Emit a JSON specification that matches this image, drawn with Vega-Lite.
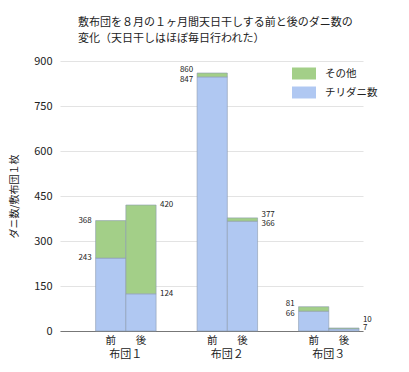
{
  "$schema": "https://vega.github.io/schema/vega-lite/v6.json",
  "width": 303,
  "height": 270,
  "autosize": "none",
  "padding": {"left": 60, "top": 61, "right": 46, "bottom": 41},
  "background": "white",
  "title": {
    "text": ["敷布団を８月の１ヶ月間天日干しする前と後のダニ数の", "変化（天日干しはほぼ毎日行われた）"],
    "anchor": "start",
    "frame": "group",
    "dx": 18,
    "fontSize": 11,
    "fontWeight": "normal",
    "font": "Noto Sans CJK JP",
    "color": "#222",
    "lineHeight": 16.5,
    "offset": 11
  },
  "config": {"font": "Noto Sans CJK JP", "view": {"stroke": null}},
  "data": {"values": [
    {"futon": "布団１", "timing": "前", "kind": "チリダニ数", "count": 243},
    {"futon": "布団１", "timing": "前", "kind": "その他", "count": 125},
    {"futon": "布団１", "timing": "後", "kind": "チリダニ数", "count": 124},
    {"futon": "布団１", "timing": "後", "kind": "その他", "count": 296},
    {"futon": "布団２", "timing": "前", "kind": "チリダニ数", "count": 847},
    {"futon": "布団２", "timing": "前", "kind": "その他", "count": 13},
    {"futon": "布団２", "timing": "後", "kind": "チリダニ数", "count": 366},
    {"futon": "布団２", "timing": "後", "kind": "その他", "count": 11},
    {"futon": "布団３", "timing": "前", "kind": "チリダニ数", "count": 66},
    {"futon": "布団３", "timing": "前", "kind": "その他", "count": 15},
    {"futon": "布団３", "timing": "後", "kind": "チリダニ数", "count": 7},
    {"futon": "布団３", "timing": "後", "kind": "その他", "count": 3}
  ]},
  "transform": [
    {"stack": "count", "groupby": ["futon", "timing"], "sort": [{"field": "kind", "order": "descending"}], "as": ["v0", "v1"]},
    {"joinaggregate": [{"op": "sum", "field": "count", "as": "total"}], "groupby": ["futon", "timing"]}
  ],
  "encoding": {
    "x": {
      "field": "futon",
      "type": "nominal",
      "scale": {"paddingInner": 0.404, "paddingOuter": 0.195, "align": 0.9},
      "axis": {"title": null, "ticks": false, "labelAngle": 0, "labelPadding": 17, "labelFontSize": 11, "labelColor": "#222", "domainColor": "#777", "domainWidth": 1}
    },
    "xOffset": {"field": "timing", "type": "nominal", "sort": ["前", "後"], "scale": {"paddingInner": 0, "paddingOuter": 0}}
  },
  "layer": [
    {
      "mark": {"type": "bar", "stroke": "#8c9aae", "strokeWidth": 0.6},
      "encoding": {
        "y": {
          "field": "v1",
          "type": "quantitative",
          "scale": {"domain": [0, 900]},
          "axis": {"title": "ダニ数/敷布団１枚", "titleFontSize": 10, "titleFontWeight": "normal", "titleColor": "#222", "titlePadding": 14, "values": [0, 150, 300, 450, 600, 750, 900], "domain": false, "ticks": false, "labelPadding": 8, "labelFontSize": 11, "labelColor": "#222", "gridColor": "#e3e3e3"}
        },
        "y2": {"field": "v0"},
        "color": {
          "field": "kind",
          "type": "nominal",
          "scale": {"domain": ["その他", "チリダニ数"], "range": ["#a3cf88", "#b0c8f2"]},
          "legend": {"title": null, "orient": "none", "legendX": 238, "legendY": 6.5, "symbolType": "M-2,-1H2V1H-2Z", "symbolSize": 144, "symbolStrokeWidth": 0, "symbolOpacity": 1, "labelOffset": 15, "rowPadding": 7, "labelFontSize": 10.5, "labelColor": "#222", "padding": 0}
        }
      }
    },
    {
      "transform": [{"filter": "datum.timing == '前'"}],
      "mark": {"type": "text", "align": "right", "dx": -19, "fontSize": 8, "color": "#222", "dy": {"expr": "datum.kind == 'その他' ? (datum.count < 33 ? (datum.v0 < 30 ? -8 : -3) : 0) : ((datum.total - datum.v1) < 33 ? (datum.v1 < 30 ? -1 : 3) : 0)"}},
      "encoding": {"y": {"field": "v1", "type": "quantitative"}, "text": {"field": "v1"}}
    },
    {
      "transform": [{"filter": "datum.timing == '後'"}],
      "mark": {"type": "text", "align": "left", "dx": 19, "fontSize": 8, "color": "#222", "dy": {"expr": "datum.kind == 'その他' ? (datum.count < 33 ? (datum.v0 < 30 ? -8 : -3) : 0) : ((datum.total - datum.v1) < 33 ? (datum.v1 < 30 ? -1 : 3) : 0)"}},
      "encoding": {"y": {"field": "v1", "type": "quantitative"}, "text": {"field": "v1"}}
    },
    {
      "transform": [{"filter": "datum.kind == 'チリダニ数'"}],
      "mark": {"type": "text", "fontSize": 10.5, "baseline": "top", "dy": 5, "color": "#222"},
      "encoding": {"y": {"datum": 0}, "text": {"field": "timing"}}
    }
  ]
}
